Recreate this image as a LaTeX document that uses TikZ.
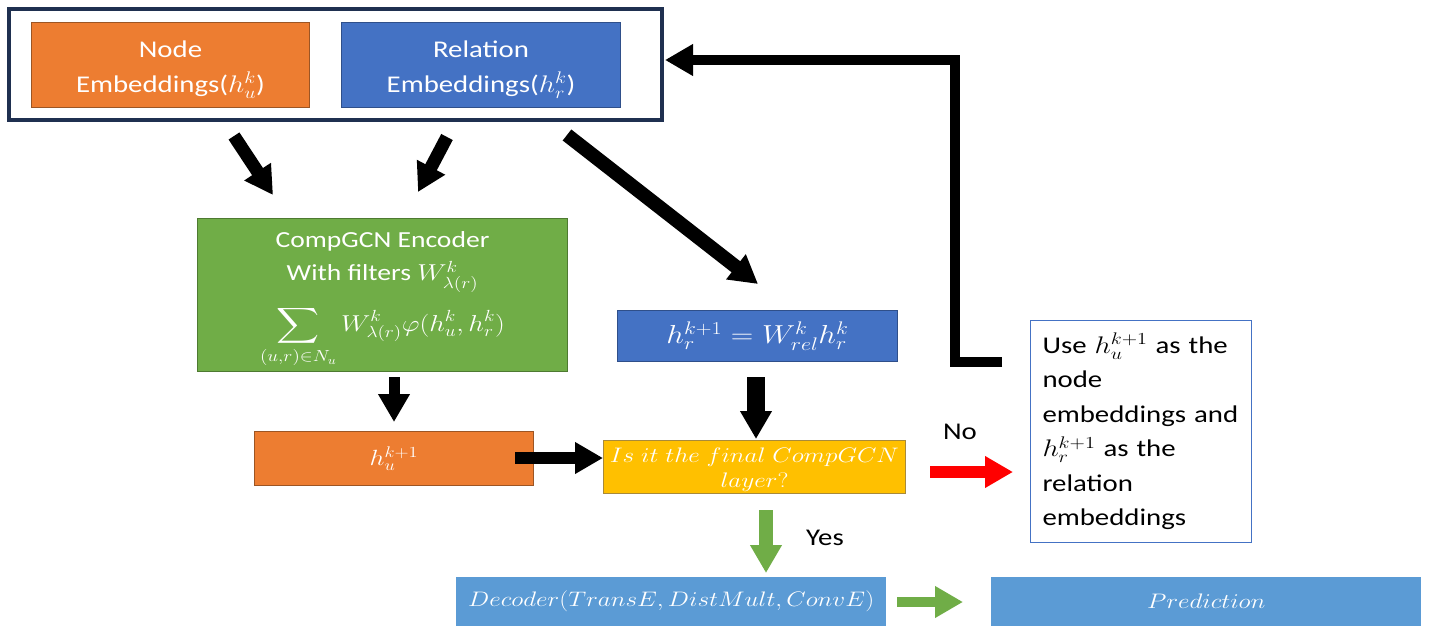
\RequirePackage{fix-cm}
\documentclass[tikz,border=0pt]{standalone}
\usepackage{exscale}
\usepackage{fontspec}
\setmainfont{Carlito}[FakeStretch=1.2]
\usetikzlibrary{arrows.meta}

\definecolor{frameblue}{HTML}{1F3050}
\definecolor{oran}{HTML}{ED7D31}
\definecolor{oranline}{HTML}{9C5524}
\definecolor{blu}{HTML}{4472C4}
\definecolor{bluline}{HTML}{2F4F8A}
\definecolor{grn}{HTML}{70AD47}
\definecolor{grnline}{HTML}{4E7A31}
\definecolor{yel}{HTML}{FFC000}
\definecolor{yelline}{HTML}{A88A3A}
\definecolor{lblu}{HTML}{5B9BD5}
\definecolor{arrgreen}{HTML}{70AD47}

% math set slightly wide, like the text font
\newcommand{\wm}[1]{\scalebox{1.2}[1]{$#1$}}
\newcommand{\wdm}[1]{\scalebox{1.2}[1]{$\displaystyle #1$}}
% extra room above a first line
\newcommand{\topstrut}{\rule{0pt}{26pt}}

\tikzset{
  box/.style={anchor=north west, inner sep=0pt, text=white, align=center,
    font=\fontsize{24}{35}\selectfont},
  blk/.style={line width=#1, -{Triangle[width=30pt,length=28pt]}},
  blk/.default=12pt,
  lbl/.style={font=\fontsize{24}{28}\selectfont, inner sep=0pt}
}

\begin{document}
\begin{tikzpicture}[x=1pt,y=-1pt]
\useasboundingbox[fill=white] (0,0) rectangle (1429,626);

% input embeddings group
\node[draw=frameblue, line width=4pt, anchor=north west, inner sep=0pt,
  minimum width=653pt, minimum height=111pt] (frame) at (7,7) {};
\node[box, fill=oran, draw=oranline, line width=1pt,
  minimum width=278pt, minimum height=85pt] (nodeemb) at (31,22)
  {\topstrut Node\\Embeddings(\wm{h_u^k})};
\node[box, fill=blu, draw=bluline, line width=1pt,
  minimum width=279pt, minimum height=85pt] (relemb) at (341,22)
  {\topstrut Relation\\Embeddings(\wm{h_r^k})};

% encoder
\node[box, fill=grn, draw=grnline, line width=1pt,
  minimum width=370pt, minimum height=153pt, font=\fontsize{23}{33}\selectfont] (enc) at (197,218)
  {\rule{0pt}{26pt}CompGCN Encoder\\With filters \wm{W^k_{\lambda(r)}}\\[12pt]
   \wdm{\sum_{(u,r)\in N_u} W^k_{\lambda(r)}\varphi(h^k_u,h^k_r)}};

% relation update
\node[box, fill=blu, draw=bluline, line width=1pt,
  minimum width=280pt, minimum height=51pt, font=\fontsize{26}{28}\selectfont] (hr) at (617,310)
  {\wm{h_r^{k+1} = W^k_{rel}h^k_r}};

% node update
\node[box, fill=oran, draw=oranline, line width=1pt,
  minimum width=279pt, minimum height=54pt, font=\fontsize{22}{26}\selectfont] (hu) at (254,431)
  {\wm{h_u^{k+1}}};

% decision
\node[box, fill=yel, draw=yelline, line width=1pt,
  minimum width=302pt, minimum height=53pt, font=\fontsize{21}{25}\selectfont] (final) at (603,440)
  {\rule{0pt}{20pt}\wm{Is\ it\ the\ final\ CompGCN}\\\wm{layer?}};

% feedback text
\node[anchor=north west, draw=blu, line width=1pt, fill=white, text=black,
  align=left, inner xsep=12pt, inner ysep=0pt, text width=197pt,
  minimum height=222pt, font=\fontsize{24}{34.5}\selectfont] (use) at (1030,320)
  {Use \wm{h_u^{k+1}} as the\\node\\embeddings and\\\wm{h_r^{k+1}} as the\\relation\\embeddings};

% decoder and prediction
\node[box, fill=lblu, minimum width=430pt, minimum height=49pt,
  font=\fontsize{21}{25}\selectfont] (dec) at (456,577)
  {\wm{Decoder(TransE,DistMult,ConvE)}};
\node[box, fill=lblu, minimum width=430pt, minimum height=49pt,
  font=\fontsize{21}{25}\selectfont] (pred) at (991,577)
  {\wm{Prediction}};

% arrow end points
\coordinate (a1s) at (234,136);
\coordinate (a1e) at (273,195);
\coordinate (a2s) at (447,137);
\coordinate (a2e) at (418,192);
\coordinate (a3s) at (567,135);
\coordinate (a3e) at (758,284);
\coordinate (fbs) at (1002,362);
\coordinate (fbc1) at (955,362);
\coordinate (fbc2) at (955,60);
\coordinate (fbe) at (665,60);
\coordinate (d1s) at (394,377);
\coordinate (d1e) at (394,422);
\coordinate (d2s) at (756,377);
\coordinate (d2e) at (756,439);
\coordinate (h1s) at (515,458);
\coordinate (h1e) at (603,458);
\coordinate (rs) at (930,472);
\coordinate (re) at (1013,472);
\coordinate (gds) at (766,510);
\coordinate (gde) at (766,573);
\coordinate (grs) at (897,602);
\coordinate (gre) at (963,602);

% connectors
\draw[blk=13pt] (a1s) -- (a1e);
\draw[blk=13pt] (a2s) -- (a2e);
\draw[blk=14pt] (a3s) -- (a3e);
\draw[line width=10pt, -{Triangle[width=30pt,length=28pt]}]
  (fbs) -- (fbc1) -- (fbc2) -- (fbe);
\draw[blk=11pt] (d1s) -- (d1e);
\draw[blk=18pt] (d2s) -- (d2e);
\draw[blk=12pt] (h1s) -- (h1e);
\draw[blk=12pt, draw=red, fill=red] (rs) -- (re);
\draw[blk=14pt, draw=arrgreen, fill=arrgreen] (gds) -- (gde);
\draw[blk=10pt, draw=arrgreen, fill=arrgreen] (grs) -- (gre);

% branch labels
\node[lbl] (no) at (960,432) {No};
\node[lbl] (yes) at (825,538) {Yes};
\end{tikzpicture}
\end{document}
